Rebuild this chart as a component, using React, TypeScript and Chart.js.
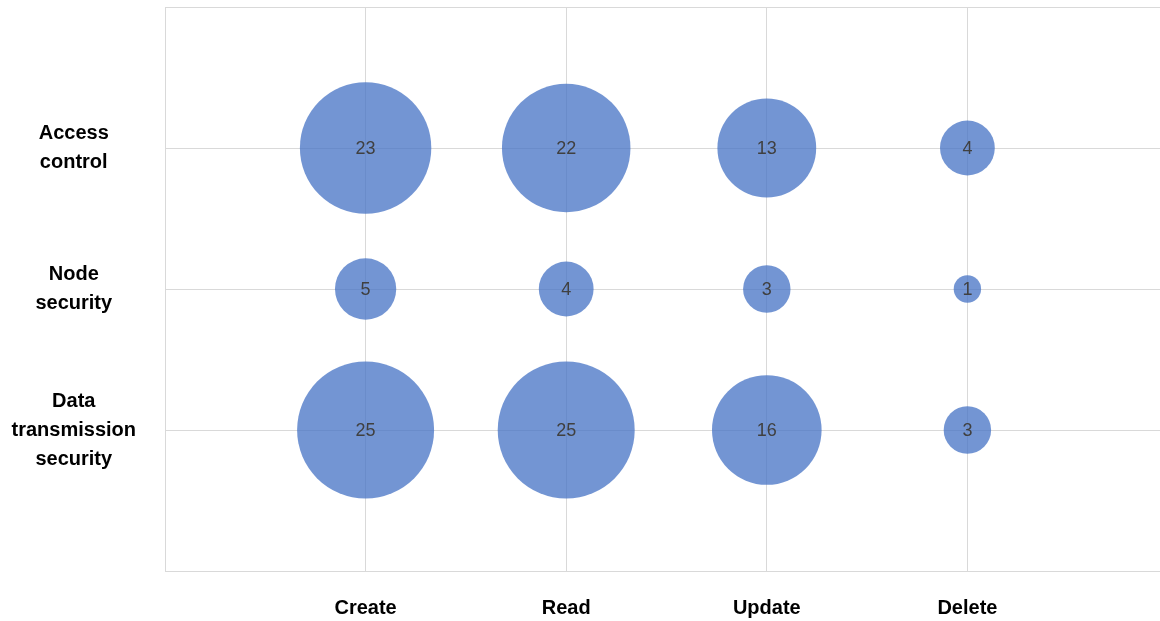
import React, { useEffect, useRef } from "react";
import { Chart, registerables } from "chart.js";

Chart.register(...registerables);

const categories = ["Create", "Read", "Update", "Delete"];
const rowLabels = [["Data", "transmission", "security"], ["Node", "security"], ["Access", "control"]];
const accessControl = [23, 22, 13, 4];
const nodeSecurity = [5, 4, 3, 1];
const dataTransmission = [25, 25, 16, 3];

const FONT = "'Liberation Sans', Arial, sans-serif";
const GRID = "#d9d9d9";

const rows = [dataTransmission, nodeSecurity, accessControl];

const points = rows.flatMap((vals, ri) =>
  vals.map((v, ci) => ({ x: ci + 1, y: ri + 1, v }))
);

const labelPlugin = {
  id: "bubbleLabels",
  afterDatasetsDraw(chart: any) {
    const ctx = chart.ctx;
    const meta = chart.getDatasetMeta(0);
    ctx.save();
    ctx.font = `18px ${FONT}`;
    ctx.fillStyle = "#404040";
    ctx.textAlign = "center";
    ctx.textBaseline = "middle";
    meta.data.forEach((el: any, i: number) => {
      const d: any = chart.data.datasets[0].data[i];
      ctx.fillText(String(d.v), el.x, el.y + 1);
    });
    ctx.restore();
  },
};

export default function App() {
  const ref = useRef<HTMLCanvasElement>(null);
  useEffect(() => {
    if (!ref.current) return;
    const chart = new Chart(ref.current, {
      type: "bubble",
      data: {
        datasets: [
          {
            data: points as any,
            backgroundColor: "rgba(68,114,196,0.75)",
            borderWidth: 0,
            hoverBorderWidth: 0,
            hoverRadius: 0,
            radius: (c: any) => 13.7 * Math.sqrt(c.raw ? c.raw.v : 0),
          } as any,
        ],
      },
      options: {
        responsive: false,
        animation: false,
        layout: { autoPadding: false, padding: { top: 7, left: 0, right: 0, bottom: 0 } },
        plugins: { legend: { display: false }, tooltip: { enabled: false } },
        scales: {
          x: {
            type: "linear",
            min: 0,
            max: 5,
            afterBuildTicks: (s: any) => {
              s.ticks = [0, 1, 2, 3, 4, 5].map((value) => ({ value }));
            },
            afterFit: (s: any) => {
              s.height = 50;
              s.paddingLeft = 0;
              s.paddingRight = 0;
            },
            grid: { color: GRID, lineWidth: 1, drawTicks: false },
            border: { color: GRID, width: 1 },
            ticks: {
              padding: 25,
              maxRotation: 0,
              autoSkip: false,
              color: "#000000",
              font: { family: FONT, size: 20, weight: "bold" },
              callback: (v: any) => (v >= 1 && v <= 4 ? categories[v - 1] : ""),
            },
          },
          y: {
            type: "linear",
            min: 0,
            max: 4,
            afterBuildTicks: (s: any) => {
              s.ticks = [0, 1, 2, 3, 4].map((value) => ({ value }));
            },
            afterFit: (s: any) => {
              s.width = 165;
              s.paddingTop = 0;
              s.paddingBottom = 0;
            },
            grid: { color: GRID, lineWidth: 1, drawTicks: false },
            border: { color: GRID, width: 1 },
            ticks: {
              padding: 29,
              crossAlign: "center",
              autoSkip: false,
              color: "#000000",
              font: { family: FONT, size: 20, weight: "bold", lineHeight: 1.45 },
              callback: (v: any) => (v >= 1 && v <= 3 ? rowLabels[v - 1] : ""),
            },
          },
        },
      } as any,
      plugins: [labelPlugin],
    });
    return () => chart.destroy();
  }, []);
  return (
    <div style={{ position: "fixed", left: 0, top: 0, width: 1160, height: 621, overflow: "hidden", background: "#fff" }}>
      <canvas ref={ref} width={1168} height={621} style={{ display: "block" }} />
    </div>
  );
}
